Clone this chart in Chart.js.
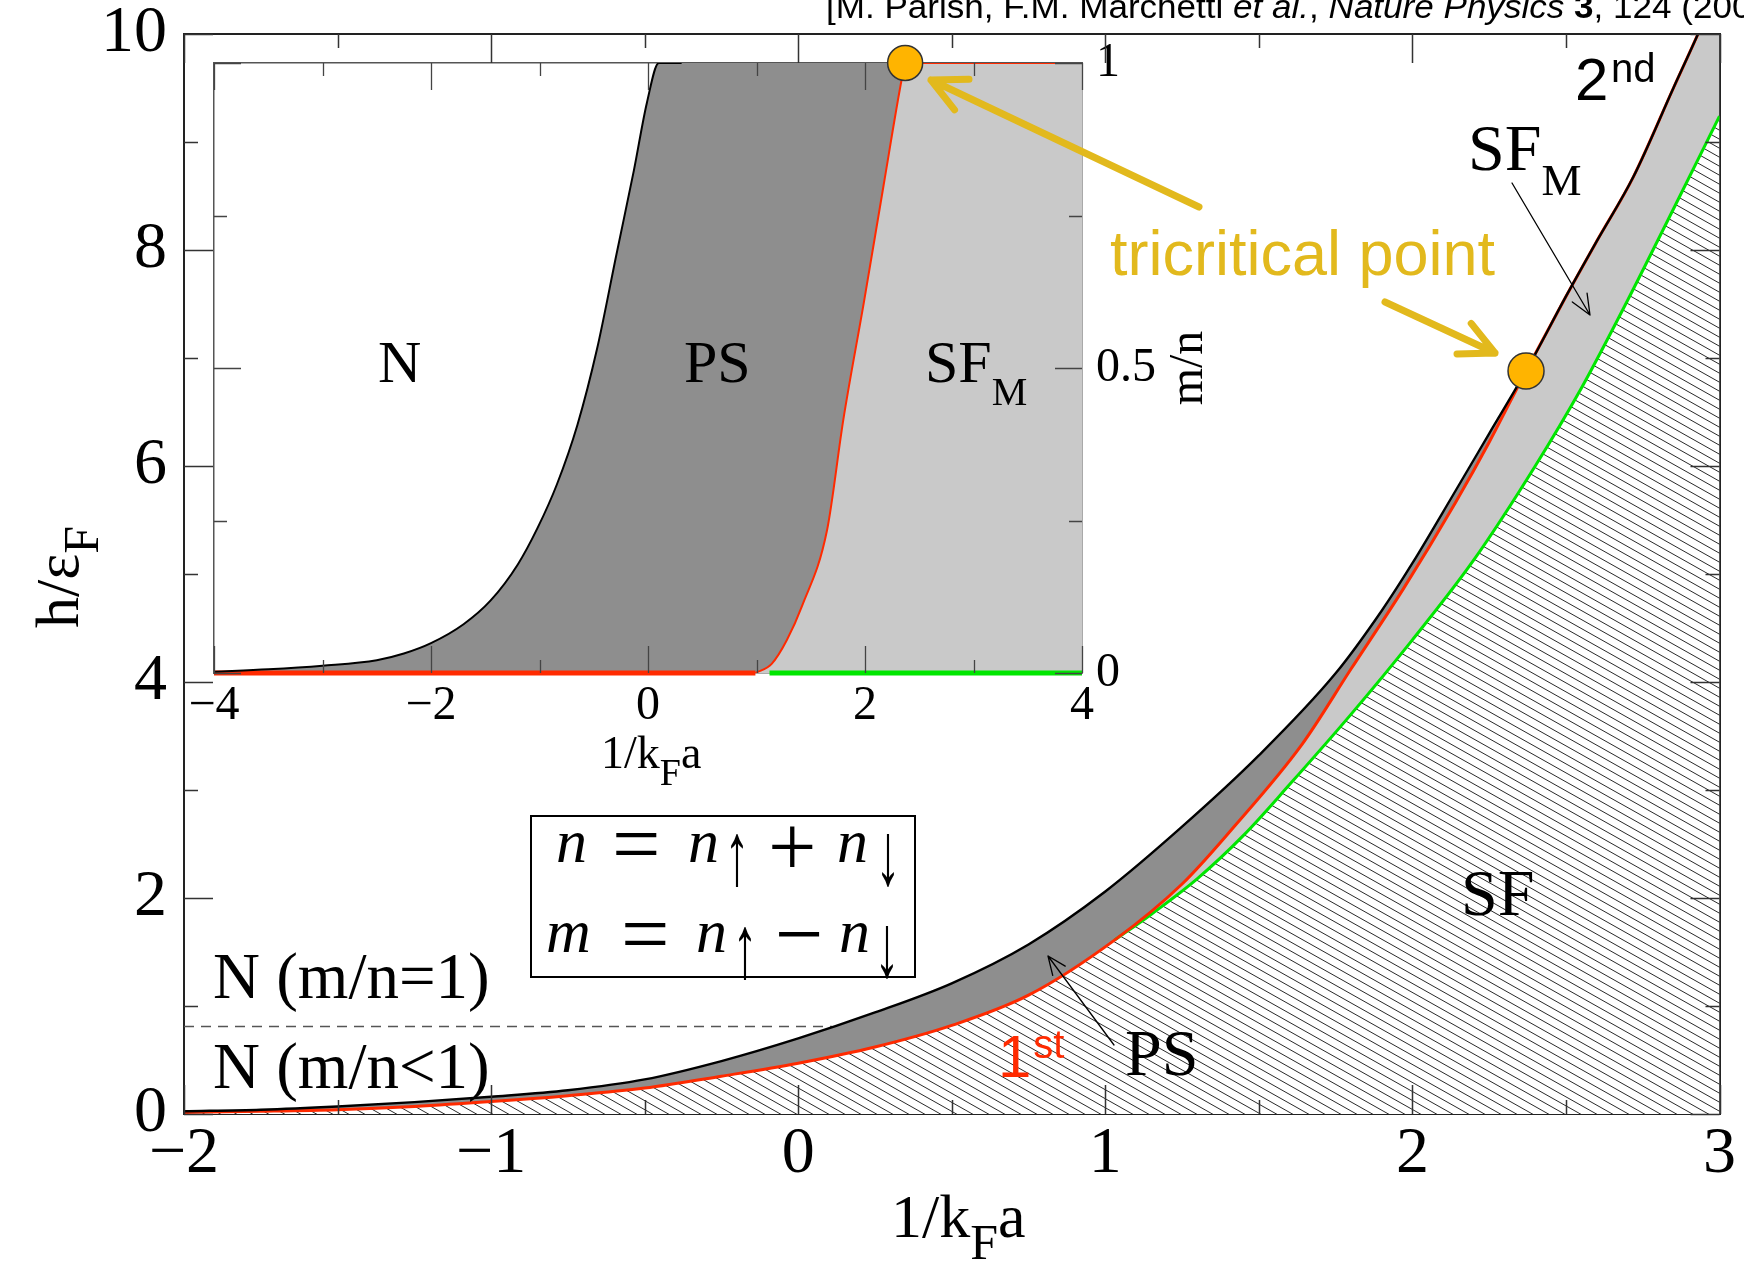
<!DOCTYPE html>
<html>
<head>
    <meta charset="utf-8">
    <title>Polarized Fermi gas phase diagram</title>
    <script src="https://cdn.jsdelivr.net/npm/chart.js"></script>
    <style>
        body { margin: 0; background: #fff; }
        #figure { position: relative; width: 1744px; height: 1264px; overflow: hidden; }
        #figure canvas { position: absolute; left: 0; top: 0; }
    </style>
</head>
<body>
    <div id="figure">
        <canvas id="inset" width="1744" height="1264"></canvas>
        <canvas id="main" width="1744" height="1264"></canvas>
    </div>

    <script>
        // main panel: h/eF against 1/kFa
        const nEdgeX = [-2, -1.75, -1.5, -1.25, -1, -0.75, -0.5, -0.25, 0, 0.25, 0.5, 0.75, 1.0, 1.25, 1.5, 1.75, 1.9, 2.0, 2.13, 2.25, 2.37, 2.5, 2.6, 2.72, 2.85, 2.93, 3.0];
        const nEdgeH = [0.025, 0.04, 0.07, 0.11, 0.16, 0.22, 0.32, 0.49, 0.70, 0.94, 1.21, 1.57, 2.06, 2.66, 3.32, 4.08, 4.66, 5.10, 5.72, 6.30, 6.88, 7.57, 8.08, 8.68, 9.50, 10.0, 10.46];
        // first-order line; above the tricritical point it runs along nEdge
        const firstX = [-2, -1.75, -1.5, -1.25, -1, -0.75, -0.5, -0.25, 0, 0.25, 0.5, 0.75, 1.03, 1.25, 1.41, 1.64, 1.8, 1.97, 2.14, 2.25, 2.37, 2.5, 2.6, 2.72, 2.85, 2.93, 3.0];
        const firstH = [0.015, 0.025, 0.04, 0.07, 0.115, 0.17, 0.24, 0.35, 0.47, 0.62, 0.82, 1.10, 1.61, 2.13, 2.63, 3.42, 4.12, 4.86, 5.66, 6.22, 6.88, 7.57, 8.08, 8.68, 9.50, 10.0, 10.46];
        // SF / SF_M boundary
        const sfEdgeX = [1.03, 1.15, 1.3, 1.45, 1.6, 1.8, 2.0, 2.2, 2.4, 2.55, 2.7, 2.85, 3.0];
        const sfEdgeH = [1.61, 1.85, 2.18, 2.58, 3.05, 3.70, 4.39, 5.13, 6.0, 6.72, 7.53, 8.38, 9.24];
        const dashX = [-2, 0.11];
        const dashH = [0.81, 0.81];
        const tcX = [2.37];
        const tcH = [6.88];
        const mainXMajor = [-2, -1, 0, 1, 2, 3];
        const mainXMinor = [-1.5, -0.5, 0.5, 1.5, 2.5];
        const mainYMajor = [0, 2, 4, 6, 8, 10];
        const mainYMinor = [1, 3, 5, 7, 9];

        // inset: m/n against 1/kFa
        const inNX = [-4, -3.5, -3, -2.5, -2.25, -2, -1.7, -1.45, -1.2, -1.02, -0.84, -0.65, -0.47, -0.29, -0.13, -0.01, 0.1, 0.31];
        const inNM = [0.002, 0.006, 0.012, 0.021, 0.032, 0.049, 0.08, 0.119, 0.178, 0.237, 0.309, 0.407, 0.531, 0.687, 0.824, 0.935, 1.0, 1.0];
        const inFirstX = [0.99, 1.14, 1.28, 1.42, 1.65, 1.8, 1.99, 2.17, 2.34, 2.37];
        const inFirstM = [0, 0.015, 0.054, 0.11, 0.234, 0.415, 0.608, 0.798, 0.975, 1.0];
        const inTopX = [2.37, 4];
        const inTopM = [1, 1];
        const inRedBaseX = [-4, 0.99];
        const inGreenBaseX = [1.12, 4];
        const inBaseM = [0, 0];
        const inTcX = [2.37];
        const inTcM = [1];
        const insetXMajor = [-4, -2, 0, 2, 4];
        const insetXMinor = [-3, -1, 1, 3];
        const insetYMajor = [0, 0.5, 1];
        const insetYMinor = [0.25, 0.75];

        const W = 1744, H = 1264;
        const MAIN = { left: 184, top: 34, right: 1722, bottom: 1114 };
        const INSET = { left: 214, top: 63, right: 1082, bottom: 673 };

        const serif = '"Liberation Serif", "Times New Roman", serif';
        const sans = '"Liberation Sans", Arial, sans-serif';
        const RED = '#ff2a00', GREEN = '#00e600', GOLD = '#e2b91d', ORANGE = '#ffb400';
        const DARK = '#8e8e8e', LIGHT = '#c9c9c9', NONE = 'rgba(0,0,0,0)';

        const pts = (xs, ys) => xs.map((x, i) => ({ x, y: ys[i] }));
        const minus = v => String(v).replace('-', '\u2212');

        function hatch() {
            const c = document.createElement('canvas');
            c.width = 16; c.height = 9;
            const g = c.getContext('2d');
            g.fillStyle = '#fff';
            g.fillRect(0, 0, 16, 9);
            g.strokeStyle = '#2a2a2a';
            g.lineWidth = 1;
            g.beginPath();
            for (const dy of [-9, 0, 9]) {
                g.moveTo(-16, dy - 9);
                g.lineTo(32, dy + 18);
            }
            g.stroke();
            return g.createPattern(c, 'repeat');
        }

        function frame(position, min, max, size, extra) {
            return Object.assign({
                type: 'linear', position, min, max, z: 1,
                grid: { display: false, drawTicks: false },
                border: { display: true, width: 2, color: '#222' },
                ticks: { display: false },
                afterFit(scale) {
                    if (scale.isHorizontal()) scale.height = size; else scale.width = size;
                }
            }, extra || {});
        }

        // lineHeight only matters for the vertical offset of bottom labels;
        // kept small on vertical axes so the end labels do not push the plot area in
        function labels(size, step, padding, lineHeight) {
            return {
                display: true, stepSize: step, autoSkip: false, maxRotation: 0, padding, color: '#000',
                font: { family: serif, size, lineHeight }, callback: minus
            };
        }

        function curve(data, extra) {
            return Object.assign({
                data, xAxisID: 'x', yAxisID: 'y', fill: false, pointRadius: 0,
                borderColor: NONE, borderWidth: 0, cubicInterpolationMode: 'monotone'
            }, extra);
        }

        function put(ctx, str, x, y, font, color, align) {
            ctx.font = font;
            ctx.fillStyle = color || '#000';
            ctx.textAlign = align || 'left';
            ctx.textBaseline = 'alphabetic';
            ctx.fillText(str, x, y);
            return x + ctx.measureText(str).width;
        }

        // spin arrows in the n, m definitions are tall and thin
        function tallArrow(ctx, str, x, y) {
            ctx.save();
            ctx.translate(x, y);
            ctx.scale(0.9, 1.6);
            put(ctx, str, 0, 0, `56px ${serif}`, '#000', 'center');
            ctx.restore();
        }

        function arrow(ctx, x0, y0, x1, y1, head, spread, color, width) {
            const a = Math.atan2(y1 - y0, x1 - x0);
            ctx.save();
            ctx.strokeStyle = color;
            ctx.lineWidth = width;
            ctx.lineCap = 'round';
            ctx.lineJoin = 'round';
            ctx.beginPath();
            ctx.moveTo(x0, y0);
            ctx.lineTo(x1, y1);
            ctx.moveTo(x1 - head * Math.cos(a - spread), y1 - head * Math.sin(a - spread));
            ctx.lineTo(x1, y1);
            ctx.lineTo(x1 - head * Math.cos(a + spread), y1 - head * Math.sin(a + spread));
            ctx.stroke();
            ctx.restore();
        }

        // tick marks pointing into the plot on all four sides
        const inwardTicks = {
            id: 'inwardTicks',
            afterDatasetsDraw(chart, args, o) {
                const { ctx, chartArea: a, scales: { x, y } } = chart;
                ctx.save();
                ctx.strokeStyle = o.color;
                ctx.lineWidth = o.width;
                ctx.beginPath();
                for (const [vals, len] of [[o.xMajor, o.major], [o.xMinor, o.minor]]) {
                    for (const v of vals) {
                        const p = Math.round(x.getPixelForValue(v)) + 0.5;
                        ctx.moveTo(p, a.bottom); ctx.lineTo(p, a.bottom - len);
                        ctx.moveTo(p, a.top); ctx.lineTo(p, a.top + len);
                    }
                }
                for (const [vals, len] of [[o.yMajor, o.major], [o.yMinor, o.minor]]) {
                    for (const v of vals) {
                        const p = Math.round(y.getPixelForValue(v)) + 0.5;
                        ctx.moveTo(a.left, p); ctx.lineTo(a.left + len, p);
                        ctx.moveTo(a.right, p); ctx.lineTo(a.right - len, p);
                    }
                }
                ctx.stroke();
                ctx.restore();
            }
        };

        const mainText = {
            id: 'mainText',
            afterDraw(chart) {
                const ctx = chart.ctx;
                ctx.save();

                // reference line, running off the right edge
                const parts = [['', '[M. Parish, F.M. Marchetti '], ['italic ', 'et al.'], ['', ', '],
                    ['italic ', 'Nature Physics'], ['', ' '], ['bold ', '3'], ['', ', '], ['', '124 (2007)]']];
                let prefix = 0;
                parts.slice(0, -1).forEach(([st, s]) => { ctx.font = `${st}33px ${sans}`; prefix += ctx.measureText(s).width; });
                ctx.save();
                ctx.translate(826, 18);
                ctx.scale(787 / prefix, 1);
                let cx = 0;
                parts.forEach(([st, s]) => { cx = put(ctx, s, cx, 0, `${st}33px ${sans}`); });
                ctx.restore();

                // axis titles
                let x = put(ctx, '1/k', 891, 1237, `62px ${serif}`);
                x = put(ctx, 'F', x, 1259, `50px ${serif}`);
                put(ctx, 'a', x, 1237, `62px ${serif}`);
                ctx.save();
                ctx.translate(78, 628);
                ctx.rotate(-Math.PI / 2);
                x = put(ctx, 'h/\u03b5', 0, 0, `62px ${serif}`);
                put(ctx, 'F', x, 20, `50px ${serif}`);
                ctx.restore();

                // region labels
                put(ctx, '2', 1575, 100, `60px ${sans}`);
                put(ctx, 'nd', 1611, 82, `40px ${sans}`);
                x = put(ctx, 'SF', 1468, 170, `66px ${serif}`);
                put(ctx, 'M', x, 195, `45px ${serif}`);
                put(ctx, 'SF', 1461, 915, `66px ${serif}`);
                put(ctx, 'PS', 1125, 1075, `66px ${serif}`);
                x = put(ctx, '1', 998, 1077, `60px ${sans}`, RED);
                put(ctx, 'st', x + 2, 1058, `40px ${sans}`, RED);
                put(ctx, 'N (m/n=1)', 213, 998, `65px ${serif}`);
                put(ctx, 'N (m/n<1)', 213, 1088, `65px ${serif}`);

                arrow(ctx, 1114, 1045, 1048, 956, 20, 0.4, '#000', 1.3);
                arrow(ctx, 1512, 183, 1590, 315, 22, 0.4, '#000', 1.3);

                // n and m definitions
                ctx.strokeStyle = '#000';
                ctx.lineWidth = 2;
                ctx.strokeRect(531, 816, 384, 161);
                const it = `italic 62px ${serif}`, op = `86px ${serif}`;
                put(ctx, 'n', 556, 862, it);
                put(ctx, '=', 612, 873, op);
                put(ctx, 'n', 688, 862, it);
                tallArrow(ctx, '\u2191', 737, 884);
                put(ctx, '+', 768, 876, op);
                put(ctx, 'n', 837, 862, it);
                tallArrow(ctx, '\u2193', 888, 884);
                put(ctx, 'm', 546, 952, it);
                put(ctx, '=', 621, 963, op);
                put(ctx, 'n', 696, 952, it);
                tallArrow(ctx, '\u2191', 745, 977);
                put(ctx, '\u2212', 775, 963, op);
                put(ctx, 'n', 839, 952, it);
                tallArrow(ctx, '\u2193', 887, 976);

                // tricritical point callout
                put(ctx, 'tricritical point', 1110, 275, `63px ${sans}`, GOLD);
                arrow(ctx, 1199, 207, 931, 80, 38, 0.46, GOLD, 7);
                arrow(ctx, 1385, 302, 1495, 353, 38, 0.46, GOLD, 7);

                ctx.restore();
            }
        };

        const insetText = {
            id: 'insetText',
            afterDraw(chart) {
                const ctx = chart.ctx;
                ctx.save();
                put(ctx, 'N', 378, 382, `60px ${serif}`);
                put(ctx, 'PS', 684, 382, `60px ${serif}`);
                let x = put(ctx, 'SF', 925, 382, `60px ${serif}`);
                put(ctx, 'M', x, 405, `40px ${serif}`);
                x = put(ctx, '1/k', 601, 768, `46px ${serif}`);
                x = put(ctx, 'F', x, 785, `38px ${serif}`);
                put(ctx, 'a', x, 768, `46px ${serif}`);
                ctx.translate(1202, 368);
                ctx.rotate(-Math.PI / 2);
                put(ctx, 'm/n', 0, 0, `48px ${serif}`, '#000', 'center');
                ctx.restore();
            }
        };

        const base = {
            responsive: false,
            animation: false,
            events: [],
            layout: { padding: 0 },
            plugins: { legend: { display: false }, tooltip: { enabled: false } }
        };

        const insetBorder = { display: true, width: 1.5, color: '#555' };

        // inset first, underneath the main canvas
        new Chart(document.getElementById('inset'), {
            type: 'line',
            data: {
                datasets: [
                    curve(pts(inTcX, inTcM), { showLine: false, pointRadius: 17.5, pointBackgroundColor: ORANGE, pointBorderColor: '#333', pointBorderWidth: 1.5, clip: false }),
                    curve(pts(inNX, inNM), { borderColor: '#000', borderWidth: 2 }),
                    curve([...pts(inFirstX, inFirstM), ...pts(inTopX, inTopM).slice(1)], { borderColor: RED, borderWidth: 2 }),
                    curve(pts(inRedBaseX, inBaseM), { borderColor: RED, borderWidth: 5, clip: false }),
                    curve(pts(inGreenBaseX, inBaseM), { borderColor: GREEN, borderWidth: 5, clip: false }),
                    curve([...pts(inFirstX, inFirstM), ...pts(inTopX, inTopM).slice(1)], { fill: 'origin', backgroundColor: LIGHT }),
                    curve([...pts(inNX, inNM), ...pts(inTopX, inTopM).slice(1)], { fill: 'origin', backgroundColor: DARK })
                ]
            },
            options: Object.assign({}, base, {
                scales: {
                    x: frame('bottom', -4, 4, H - INSET.bottom, { ticks: labels(48, 2, 9, 1), border: insetBorder }),
                    x2: frame('top', -4, 4, INSET.top, { border: insetBorder }),
                    y: frame('left', 0, 1, INSET.left, { border: insetBorder }),
                    y2: frame('right', 0, 1, W - INSET.right, { ticks: labels(48, 0.5, 14, 0.5), border: insetBorder })
                },
                plugins: Object.assign({}, base.plugins, {
                    inwardTicks: { color: '#444', width: 1.3, major: 27, minor: 13,
                        xMajor: insetXMajor, xMinor: insetXMinor, yMajor: insetYMajor, yMinor: insetYMinor }
                })
            }),
            plugins: [inwardTicks, insetText]
        });

        const sfPts = pts(firstX, firstH).filter(p => p.x < sfEdgeX[0]).concat(pts(sfEdgeX, sfEdgeH));

        new Chart(document.getElementById('main'), {
            type: 'line',
            data: {
                datasets: [
                    curve(pts(tcX, tcH), { showLine: false, pointRadius: 18, pointBackgroundColor: ORANGE, pointBorderColor: '#333', pointBorderWidth: 1.5, clip: false }),
                    curve(pts(nEdgeX, nEdgeH), { borderColor: '#000', borderWidth: 2.4 }),
                    curve(pts(firstX, firstH), { borderColor: RED, borderWidth: 3 }),
                    curve(pts(sfEdgeX, sfEdgeH), { borderColor: GREEN, borderWidth: 3 }),
                    curve(pts(dashX, dashH), { borderColor: '#555', borderWidth: 1.5, borderDash: [10, 7] }),
                    curve(sfPts, { fill: 'origin', backgroundColor: hatch() }),
                    curve(pts(firstX, firstH), { fill: 'origin', backgroundColor: LIGHT }),
                    curve(pts(nEdgeX, nEdgeH), { fill: 'origin', backgroundColor: DARK })
                ]
            },
            options: Object.assign({}, base, {
                scales: {
                    x: frame('bottom', -2, 3, H - MAIN.bottom, { ticks: labels(66, 1, 8, 1) }),
                    x2: frame('top', -2, 3, MAIN.top),
                    y: frame('left', 0, 10, MAIN.left, { ticks: labels(66, 2, 17, 0.4) }),
                    y2: frame('right', 0, 10, W - MAIN.right)
                },
                plugins: Object.assign({}, base.plugins, {
                    inwardTicks: { color: '#333', width: 1.5, major: 29, minor: 14,
                        xMajor: mainXMajor, xMinor: mainXMinor, yMajor: mainYMajor, yMinor: mainYMinor }
                })
            }),
            plugins: [inwardTicks, mainText]
        });
    </script>
</body>
</html>
